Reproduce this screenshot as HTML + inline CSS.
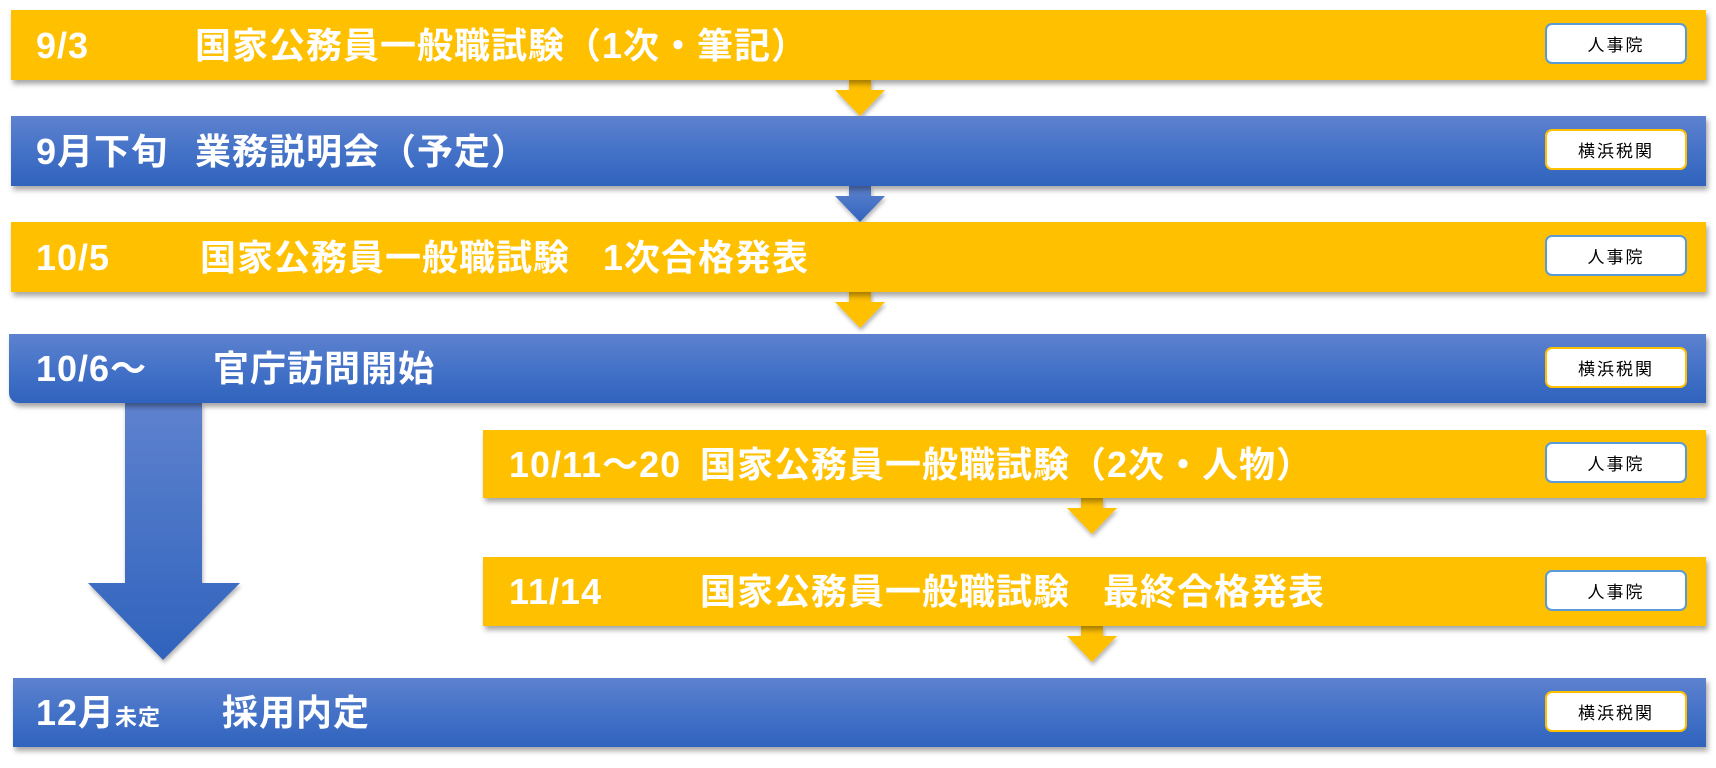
<!DOCTYPE html>
<html><head><meta charset="utf-8"><style>
html,body{margin:0;padding:0;background:#fff;}
body{width:1716px;height:768px;position:relative;overflow:hidden;font-family:"Liberation Sans","Noto Sans CJK JP",sans-serif;}
.bar{position:absolute;box-shadow:2px 4px 5px rgba(0,0,0,0.35);}
.y{background:#FFC000;}
.b{background:linear-gradient(#5E82CE,#4472C8 50%,#3063BD);}
.t{position:absolute;color:#fff;font-weight:bold;font-size:36px;line-height:36px;white-space:pre;letter-spacing:1px;font-family:"Liberation Sans","Noto Sans CJK JP",sans-serif;}
.lab{position:absolute;left:1545px;width:138px;height:37px;background:#fff;border-radius:7px;font-size:17px;line-height:37px;text-align:center;letter-spacing:2px;color:#000;font-family:"Noto Sans CJK JP",sans-serif;}
.jin{border:2px solid #5B9BD5;}
.yok{border:2px solid #FFC000;}
svg{position:absolute;left:0;top:0;}
</style></head><body>
<svg width="1716" height="768">
<defs>
<linearGradient id="bg" x1="0" y1="0" x2="0" y2="1"><stop offset="0" stop-color="#5E82CE"/><stop offset="1" stop-color="#3063BD"/></linearGradient>
<filter id="sh"><feDropShadow dx="1" dy="3" stdDeviation="2" flood-opacity="0.3"/></filter>
</defs>
<g filter="url(#sh)">
<polygon points="849,79 871,79 871,90 885,90 860,116 835,90 849,90" fill="#FFC000"/>
<polygon points="849,186 871,186 871,196 885,196 860,222 835,196 849,196" fill="url(#bg)"/>
<polygon points="849,291 871,291 871,302 885,302 860,328 835,302 849,302" fill="#FFC000"/>
<polygon points="1081,498 1103,498 1103,508 1117,508 1092,534 1067,508 1081,508" fill="#FFC000"/>
<polygon points="1081,626 1103,626 1103,636 1117,636 1092,662 1067,636 1081,636" fill="#FFC000"/>
<polygon points="125,403 202,403 202,583 240,583 163,660 88,583 125,583" fill="url(#bg)"/>
</g>
</svg>
<div class="bar y" style="left:11px;top:10px;width:1695px;height:70px"></div>
<div class="bar b" style="left:11px;top:116px;width:1695px;height:70px"></div>
<div class="bar y" style="left:11px;top:222px;width:1695px;height:70px"></div>
<div class="bar b" style="left:9px;top:334px;width:1697px;height:69px;border-radius:0 0 0 10px"></div>
<div class="bar y" style="left:483px;top:430px;width:1223px;height:68px"></div>
<div class="bar y" style="left:483px;top:557px;width:1223px;height:69px"></div>
<div class="bar b" style="left:13px;top:678px;width:1693px;height:69px"></div>

<div class="t" style="left:36px;top:28px">9/3</div>
<div class="t" style="left:195px;top:28px">国家公務員一般職試験（1次・筆記）</div>
<div class="t" style="left:36px;top:134px">9月下旬</div>
<div class="t" style="left:195px;top:134px">業務説明会（予定）</div>
<div class="t" style="left:36px;top:240px">10/5</div>
<div class="t" style="left:200px;top:240px">国家公務員一般職試験   1次合格発表</div>
<div class="t" style="left:36px;top:351px">10/6～</div>
<div class="t" style="left:213px;top:351px">官庁訪問開始</div>
<div class="t" style="left:509px;top:447px">10/11～20</div>
<div class="t" style="left:700px;top:447px">国家公務員一般職試験（2次・人物）</div>
<div class="t" style="left:509px;top:574px">11/14</div>
<div class="t" style="left:700px;top:574px">国家公務員一般職試験   最終合格発表</div>
<div class="t" style="left:36px;top:695px">12月<span style="font-size:22px">未定</span></div>
<div class="t" style="left:222px;top:695px">採用内定</div>

<div class="lab jin" style="top:23px">人事院</div>
<div class="lab yok" style="top:129px">横浜税関</div>
<div class="lab jin" style="top:235px">人事院</div>
<div class="lab yok" style="top:347px">横浜税関</div>
<div class="lab jin" style="top:442px">人事院</div>
<div class="lab jin" style="top:570px">人事院</div>
<div class="lab yok" style="top:691px">横浜税関</div>
</body></html>
